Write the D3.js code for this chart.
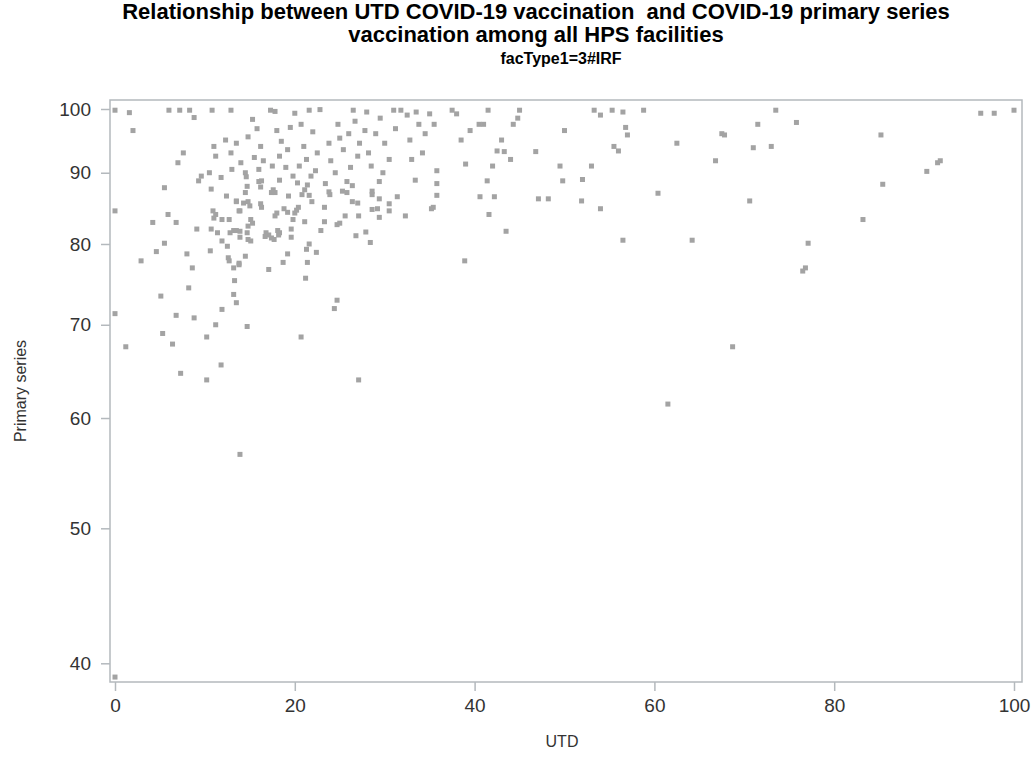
<!DOCTYPE html>
<html>
<head>
<meta charset="utf-8">
<script src="https://cdn.jsdelivr.net/npm/d3@7"></script>
<style>
  body { margin: 0; background: #fff; }
  text { font-family: "Liberation Sans", Arial, sans-serif; }
</style>
</head>
<body>
<div class="ScatterChart"></div>
<script>
// UTD (x) and primary series (y) values
var utd = [5.5, 9.3, 10.7, 12.4, 13.5, 0.0, 5.9, 4.2, 6.8, 10.9, 11.2, 11.0, 11.9, 12.7, 13.8,
  9.1, 10.7, 11.4, 12.8, 13.2, 13.5, 11.9, 12.5, 5.5, 4.6, 2.9, 8.0, 10.6, 12.6, 12.7,
  13.2, 13.8, 8.6, 13.3, 8.2, 5.1, 13.2, 13.5, 11.9, 0.0, 6.8, 8.8, 11.2, 5.3, 10.2,
  1.2, 6.4, 11.8, 7.3, 10.2, 14.7, 16.0, 16.3, 18.3, 20.3, 21.4, 21.1, 23.4, 25.8, 26.4,
  14.5, 16.2, 17.6, 17.8, 17.4, 19.3, 20.8, 21.6, 21.9, 23.8, 23.9, 25.3, 25.8, 28.6, 28.6,
  26.4, 27.0, 13.5, 14.3, 14.8, 15.0, 16.2, 16.3, 13.9, 18.8, 19.2, 20.4, 20.2, 20.0, 23.3,
  18.0, 17.8, 25.6, 27.1, 28.6, 19.8, 21.1, 23.3, 24.7, 25.0, 15.1, 15.3, 14.8, 13.9, 14.7,
  16.8, 17.1, 16.7, 18.1, 18.3, 18.2, 17.4, 17.7, 13.9, 14.8, 15.1, 19.6, 19.6, 22.9, 27.9,
  26.8, 28.4, 21.6, 21.3, 22.4, 19.2, 14.5, 18.7, 21.4, 13.8, 17.1, 21.2, 24.7, 24.4, 29.4,
  33.4, 35.8, 41.4, 29.4, 31.4, 30.5, 30.5, 29.2, 29.4, 32.3, 35.8, 35.2, 35.4, 40.6, 42.2,
  41.6, 43.5, 38.9, 14.7, 20.7, 27.1, 13.9, 49.8, 47.1, 48.2, 51.9, 54.0, 60.4, 70.6, 56.5,
  64.2, 85.4, 83.2, 77.1, 76.8, 76.5, 68.7, 61.5, 0.0,
  // upper band (about 89 to 100)
  0.0, 1.6, 2.0, 6.0, 7.2, 8.3, 8.8, 7.0, 7.6, 9.6,
  10.8, 11.0, 11.2, 10.5, 12.3, 12.9, 12.9, 13.0, 11.8,
  13.5, 14.0, 14.5, 14.8, 15.3, 15.5, 15.8, 16.2, 16.5, 14.6, 16.0,
  17.3, 17.8, 18.0, 18.5, 18.3, 19.0, 19.5, 17.5, 19.8, 19.2,
  20.0, 20.7, 21.0, 21.3, 21.6, 22.0, 22.3, 22.8, 20.5, 21.8, 22.5,
  23.8, 24.0, 24.5, 25.0, 25.4, 26.0, 26.5, 26.7, 27.0, 27.2, 26.2, 24.8,
  27.8, 28.2, 28.5, 29.0, 29.5, 30.0, 30.5, 29.8, 31.0, 31.2, 28.0,
  31.8, 32.5, 32.8, 33.5, 33.8, 34.2, 34.5, 35.5, 35.0, 33.0, 35.8,
  37.5, 38.0, 38.5, 39.5, 40.5, 41.0, 41.5, 42.0, 42.5, 43.3, 44.0, 44.3, 45.0, 44.8, 43.0, 39.0,
  46.8, 50.0, 53.3, 54.0, 55.3, 56.0, 56.5, 57.0, 56.8, 58.8, 53.0, 55.5, 52.0, 49.5,
  62.5, 66.8, 67.5, 67.8, 71.0, 71.5, 73.0, 73.5, 75.8, 85.2, 90.3, 91.5, 91.8, 96.3, 97.8, 100.0];
var primary = [87.8, 88.8, 87.6, 86.6, 85.9, 84.5, 84.0, 82.9, 82.9, 84.5, 84.0, 83.5, 83.3, 83.3, 84.5,
  82.0, 82.0, 81.5, 81.5, 81.8, 81.8, 80.4, 79.7, 80.1, 79.0, 77.8, 78.7, 79.1, 78.2, 77.8,
  76.9, 77.5, 76.9, 75.3, 74.4, 73.4, 73.6, 72.6, 71.8, 71.3, 71.1, 70.8, 70.0, 69.0, 68.6,
  67.5, 67.8, 65.5, 64.6, 63.9, 88.0, 88.7, 88.8, 88.9, 88.5, 88.2, 87.5, 88.4, 88.7, 88.1,
  87.1, 87.9, 87.5, 87.1, 87.1, 86.6, 86.8, 86.7, 85.8, 87.2, 86.8, 87.3, 87.1, 87.3, 86.8,
  85.8, 85.6, 85.8, 85.6, 85.8, 85.2, 85.5, 85.0, 84.5, 84.8, 84.3, 85.0, 84.6, 84.2, 85.0,
  84.2, 83.8, 83.8, 83.8, 84.7, 83.3, 83.0, 83.0, 82.6, 82.8, 83.3, 82.8, 82.4, 81.7, 81.5,
  81.5, 81.2, 81.0, 81.8, 81.5, 81.2, 80.8, 80.6, 80.9, 80.6, 80.4, 82.0, 80.9, 81.8, 81.6,
  81.1, 80.2, 80.0, 79.3, 78.9, 78.7, 78.4, 77.6, 77.6, 77.3, 76.7, 75.6, 72.9, 71.9, 88.7,
  88.9, 88.4, 88.8, 86.2, 86.5, 85.5, 84.5, 84.8, 83.6, 83.8, 86.7, 84.8, 85.0, 86.5, 86.5,
  84.0, 81.7, 77.8, 69.8, 68.6, 63.9, 56.5, 88.8, 86.2, 86.2, 85.9, 84.8, 87.0, 85.9, 80.5,
  80.5, 88.3, 83.3, 80.1, 76.9, 76.5, 67.5, 61.4, 39.1,
  // upper band
  99.8, 99.4, 96.5, 99.8, 99.8, 99.8, 98.6, 91.5, 93.0, 89.5,
  99.8, 94.0, 92.5, 90.0, 95.0, 99.8, 93.0, 90.5, 89.3,
  94.5, 91.5, 90.0, 95.5, 98.3, 92.3, 96.8, 94.0, 91.8, 89.4, 90.5,
  99.8, 99.6, 96.5, 94.8, 92.5, 90.8, 97.0, 91.0, 89.5, 93.5,
  99.3, 97.5, 94.0, 92.0, 99.8, 96.3, 90.3, 99.9, 91.0, 89.5, 93.0,
  94.5, 91.8, 90.0, 95.3, 93.5, 96.0, 99.8, 98.0, 92.5, 94.5, 90.8, 97.5,
  96.5, 93.0, 91.0, 96.0, 98.5, 94.5, 92.0, 90.0, 99.8, 96.8, 99.5,
  99.8, 99.0, 95.0, 99.5, 97.5, 93.0, 96.0, 97.5, 99.2, 92.0, 90.3,
  99.8, 99.2, 95.0, 96.5, 97.5, 97.5, 99.8, 91.0, 93.3, 93.2, 92.0, 97.5, 99.8, 98.5, 95.0, 91.3,
  93.2, 96.5, 99.8, 99.0, 99.8, 93.3, 99.5, 95.8, 97.0, 99.8, 91.0, 94.0, 89.0, 91.0,
  94.5, 91.8, 96.0, 95.8, 93.8, 97.5, 94.0, 99.8, 97.8, 95.8, 90.2, 91.5, 91.8, 99.3, 99.3, 99.8];

var xTicks = [0, 20, 40, 60, 80, 100];
var yTicks = [40, 50, 60, 70, 80, 90, 100];

var titleLines = ["Relationship between UTD COVID-19 vaccination  and COVID-19 primary series",
  "vaccination among all HPS facilities"];
var subTitle = "facType1=3#IRF";

var width = 1034, height = 759;
var frame = {left: 110, right: 1022, top: 100, bottom: 682};

var svg = d3.select(".ScatterChart").append("svg")
    .attr("width", width)
    .attr("height", height);

var x = d3.scaleLinear()
    .domain([0, 100])
    .range([115, 1014]);

var y = d3.scaleLog()
    .domain([40, 100])
    .range([663.3, 109]);

var points = utd.map(function(d, i) { return {x: d, y: primary[i]}; });

// titles
svg.selectAll(".title")
    .data(titleLines)
    .enter().append("text")
    .attr("class", "title")
    .attr("x", 536)
    .attr("y", function(d, i) { return 19 + i * 23; })
    .attr("text-anchor", "middle")
    .style("white-space", "pre")
    .style("font-size", "22px")
    .style("font-weight", "bold")
    .style("fill", "#000")
    .text(function(d) { return d; });

svg.append("text")
    .attr("x", 561)
    .attr("y", 64)
    .attr("text-anchor", "middle")
    .style("font-size", "16px")
    .style("font-weight", "bold")
    .text(subTitle);

// frame
svg.append("rect")
    .attr("x", frame.left)
    .attr("y", frame.top)
    .attr("width", frame.right - frame.left)
    .attr("height", frame.bottom - frame.top)
    .attr("fill", "none")
    .attr("stroke", "#b4b9bd")
    .attr("stroke-width", 1.5);

// points
svg.selectAll(".point")
    .data(points)
    .enter().append("rect")
    .attr("class", "point")
    .attr("x", function(d) { return x(d.x) - 2.5; })
    .attr("y", function(d) { return y(d.y) - 2.5; })
    .attr("width", 5)
    .attr("height", 5)
    .style("fill", "#a3a3a3");

var xAxis = d3.axisBottom(x)
    .tickValues(xTicks)
    .tickSize(9)
    .tickPadding(8)
    .tickFormat(d3.format("d"));

var yAxis = d3.axisLeft(y)
    .tickValues(yTicks)
    .tickSize(9)
    .tickPadding(10)
    .tickFormat(d3.format("d"));

var gx = svg.append("g")
    .attr("class", "x axis")
    .attr("transform", "translate(0," + frame.bottom + ")")
    .call(xAxis);

var gy = svg.append("g")
    .attr("class", "y axis")
    .attr("transform", "translate(" + frame.left + ",0)")
    .call(yAxis);

[gx, gy].forEach(function(g) {
  g.select(".domain").remove();
  g.selectAll(".tick line").attr("stroke", "#b4b9bd").attr("stroke-width", 1.5);
  g.selectAll(".tick text")
      .style("font-family", "'Liberation Sans', Arial, sans-serif")
      .style("font-size", "19px")
      .style("fill", "#333");
});

svg.append("text")
    .attr("text-anchor", "middle")
    .attr("transform", "translate(562,747)")
    .style("font-size", "16px")
    .style("fill", "#333")
    .text("UTD");

svg.append("text")
    .attr("text-anchor", "middle")
    .attr("transform", "translate(26," + ((frame.top + frame.bottom) / 2) + ")rotate(-90)")
    .style("font-size", "16px")
    .style("fill", "#333")
    .text("Primary series");
</script>
</body>
</html>
